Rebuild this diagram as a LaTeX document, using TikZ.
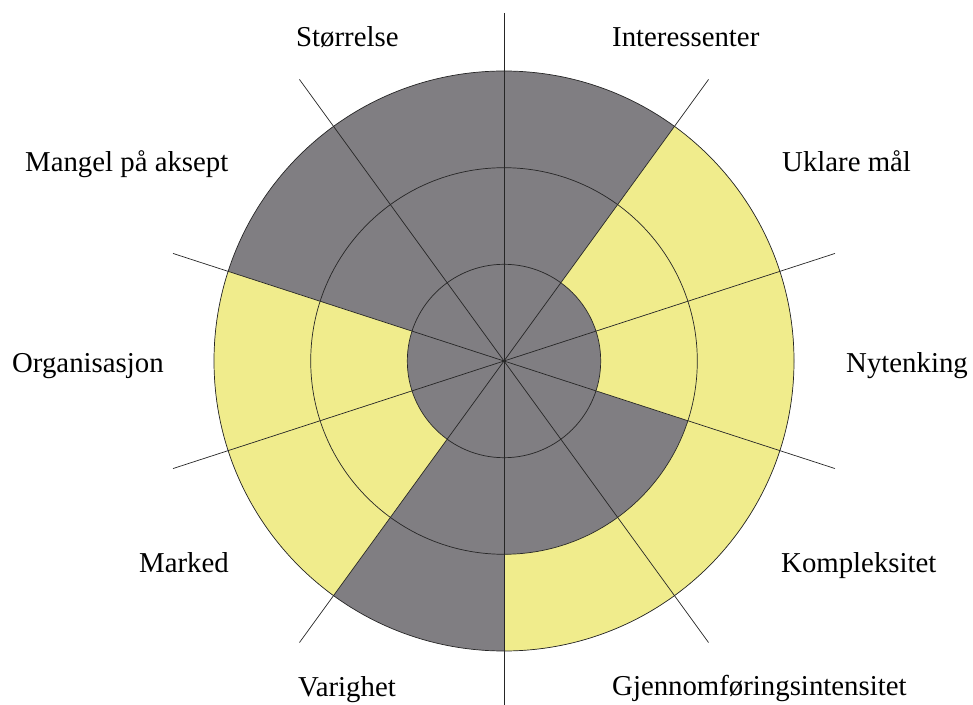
\documentclass[tikz,border=0pt]{standalone}
\usepackage{fontspec}
\setmainfont{Liberation Serif}
\definecolor{wheelgray}{RGB}{128,126,130}
\definecolor{wheelyellow}{RGB}{240,236,140}
\tikzset{
  lbl/.style={anchor=base west, inner sep=0pt, font=\fontsize{28.8}{30}\selectfont, text=black},
  ringline/.style={draw=black!85, line width=0.7pt},
  spoke/.style={draw=black!85, line width=0.7pt},
  band/.style={fill=wheelyellow}
}
\begin{document}
\begin{tikzpicture}[x=1pt,y=1pt]
\useasboundingbox (0,0) rectangle (973,704);
\clip (0,0) rectangle (973,704);
\coordinate (C) at (504,343);
\def\ra{96.7}
\def\rb{193.3}
\def\rc{290}
\begin{scope}[shift={(C)}]
  % base disk
  \fill[wheelgray] (0,0) circle[radius=\rc];
  % yellow bands: outer two rings
  \fill[band] (18:\ra) arc[start angle=18, end angle=54, radius=\ra] -- (54:\rc) arc[start angle=54, end angle=18, radius=\rc] -- cycle;
  \fill[band] (-18:\ra) arc[start angle=-18, end angle=18, radius=\ra] -- (18:\rc) arc[start angle=18, end angle=-18, radius=\rc] -- cycle;
  \fill[band] (198:\ra) arc[start angle=198, end angle=234, radius=\ra] -- (234:\rc) arc[start angle=234, end angle=198, radius=\rc] -- cycle;
  \fill[band] (162:\ra) arc[start angle=162, end angle=198, radius=\ra] -- (198:\rc) arc[start angle=198, end angle=162, radius=\rc] -- cycle;
  % yellow bands: outer ring only
  \fill[band] (-90:\rb) arc[start angle=-90, end angle=-18, radius=\rb] -- (-18:\rc) arc[start angle=-18, end angle=-90, radius=\rc] -- cycle;
  % rings
  \draw[ringline] (0,0) circle[radius=\ra];
  \draw[ringline] (0,0) circle[radius=\rb];
  \draw[ringline] (0,0) circle[radius=\rc];
  % spokes
  \foreach \a in {90,126,162,198,234} {
    \draw[spoke] (\a:348) -- (\a+180:348);
  }
\end{scope}
% labels
\node[lbl] (storrelse) at (296,657) {Størrelse};
\node[lbl] (interessenter) at (612,657) {Interessenter};
\node[lbl] (mangel) at (25,532) {Mangel på aksept};
\node[lbl] (uklare) at (782,532) {Uklare mål};
\node[lbl] (organisasjon) at (12,331) {Organisasjon};
\node[lbl] (nytenking) at (846,331) {Nytenking};
\node[lbl] (marked) at (139,132) {Marked};
\node[lbl] (kompleksitet) at (781,132) {Kompleksitet};
\node[lbl] (varighet) at (298,8) {Varighet};
\node[lbl] (gjennomforing) at (612,9) {Gjennomføringsintensitet};
\end{tikzpicture}
\end{document}
